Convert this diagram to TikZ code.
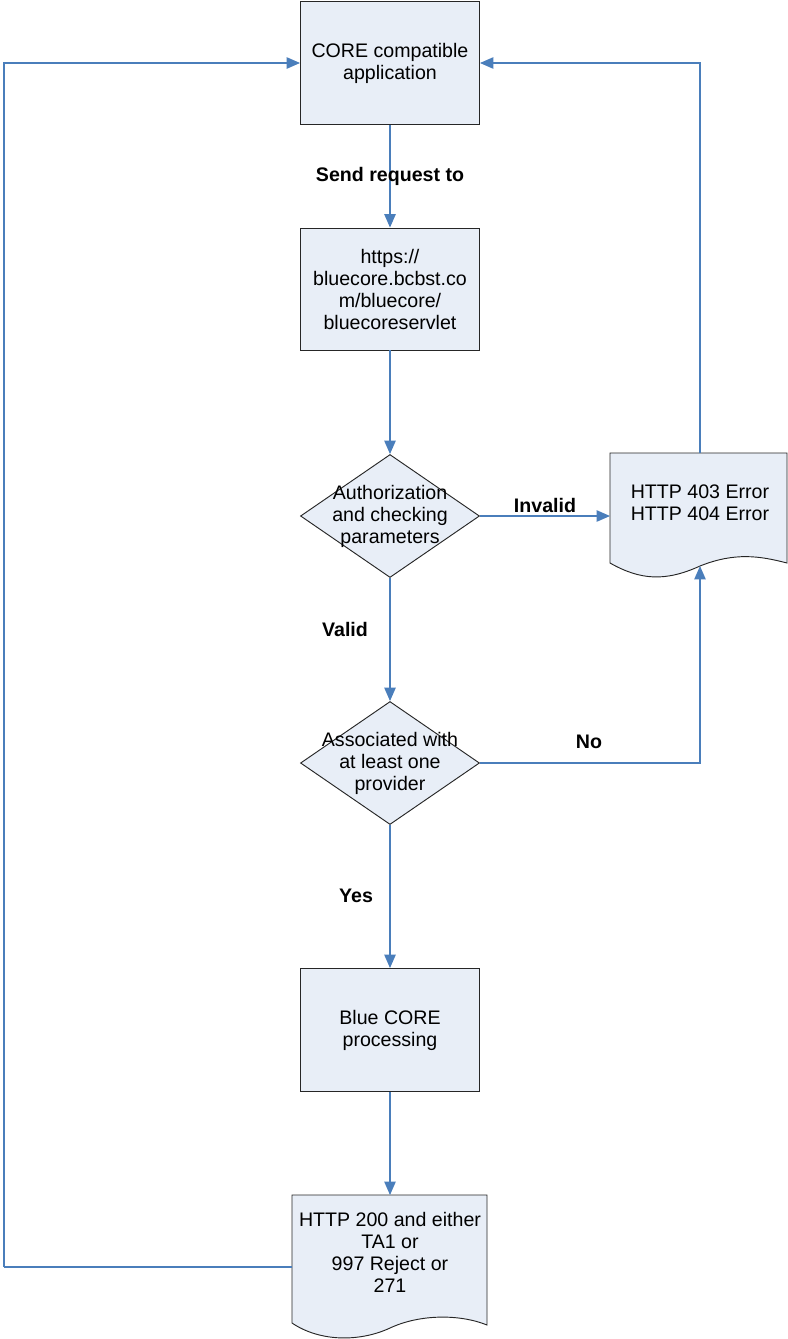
\documentclass[tikz,border=0pt]{standalone}
\usepackage{fontspec}
\setmainfont{Liberation Sans}
\usetikzlibrary{
  shapes.geometric,
  arrows.meta
  }

\definecolor{boxfill}{RGB}{232,238,247}
\definecolor{linkblue}{RGB}{74,126,187}

\begin{document}
\begin{tikzpicture}[x=0.75pt,y=-0.75pt]
    \def\px{0.75pt}
    \useasboundingbox (0,0) rectangle (788,1339);
    \tikzset{box/.style = {draw=black!85, fill=boxfill, line width=0.7pt, minimum width=179*\px, minimum height=123*\px, inner sep=0pt, align=center, font=\fontsize{14.7}{16.5}\selectfont}}
    \tikzset{choice/.style = {draw=black!85, fill=boxfill, line width=0.7pt, diamond, minimum width=179*\px, minimum height=123*\px, inner sep=0pt}}
    \tikzset{txt/.style = {align=center, inner sep=0pt, font=\fontsize{14.7}{16.5}\selectfont}}
    \tikzset{tag/.style = {inner sep=0pt, font=\fontsize{14.7}{16.5}\selectfont\bfseries}}
    \tikzset{link/.style = {draw=linkblue, line width=1pt, -{Triangle[length=10pt, width=8.5pt]}}}
    \tikzset{wire/.style = {draw=linkblue, line width=1pt}}

    % caselle
    \node [box] (core) at (390,63) {CORE compatible\\application};
    \node [box, minimum height=122*\px] (url) at (390,289) {https://\\bluecore.bcbst.co\\m/bluecore/\\bluecoreservlet};
    \node [box] (proc) at (390,1030) {Blue CORE\\processing};

    % rombi
    \node [choice] (auth) at (390,516) {};
    \node [txt] (authtxt) at (390,516) {Authorization\\and checking\\parameters};
    \node [choice] (assoc) at (390,763) {};
    \node [txt] (assoctxt) at (390,763) {Associated with\\at least one\\provider};

    % documenti
    \draw [draw=black!85, fill=boxfill, line width=0.7pt] (610,453) -- (787,453) -- (787,563)
          .. controls (760,556) and (735,552) .. (700,566)
          .. controls (665,582) and (640,580) .. (610,563) -- cycle;
    \coordinate (errtop) at (700,453);
    \coordinate (errleft) at (610,516);
    \coordinate (errbot) at (700,566);
    \node [txt] (err) at (700,503) {HTTP 403 Error\\HTTP 404 Error};

    \draw [draw=black!85, fill=boxfill, line width=0.7pt] (292,1195) -- (487,1195) -- (487,1325)
          .. controls (460,1314) and (420,1314) .. (390,1328)
          .. controls (360,1342) and (320,1342) .. (292,1323) -- cycle;
    \coordinate (okleft) at (292,1267);
    \coordinate (oktop) at (390,1195);
    \coordinate (bend) at (4,1267);
    \node [txt] (ok) at (390,1252) {HTTP 200 and either\\TA1 or\\997 Reject or\\271};

    % frecce
    \draw [link] (core) -- (url);
    \draw [link] (url) -- (auth);
    \draw [link] (auth.east) -- (errleft);
    \draw [link] (errtop) |- (core);
    \draw [link] (auth) -- (assoc);
    \draw [link] (assoc.east) -| (errbot);
    \draw [link] (assoc) -- (proc);
    \draw [link] (proc) -- (oktop);
    \draw [wire] (okleft) -- (bend);
    \draw [link] (bend) |- (core);

    % etichette
    \node [tag] (send) at (390,176) {Send request to};
    \node [tag] (invalid) at (545,505) {Invalid};
    \node [tag] (valid) at (345,629) {Valid};
    \node [tag] (no) at (589,742) {No};
    \node [tag] (yes) at (356,896) {Yes};

\end{tikzpicture}
\end{document}
